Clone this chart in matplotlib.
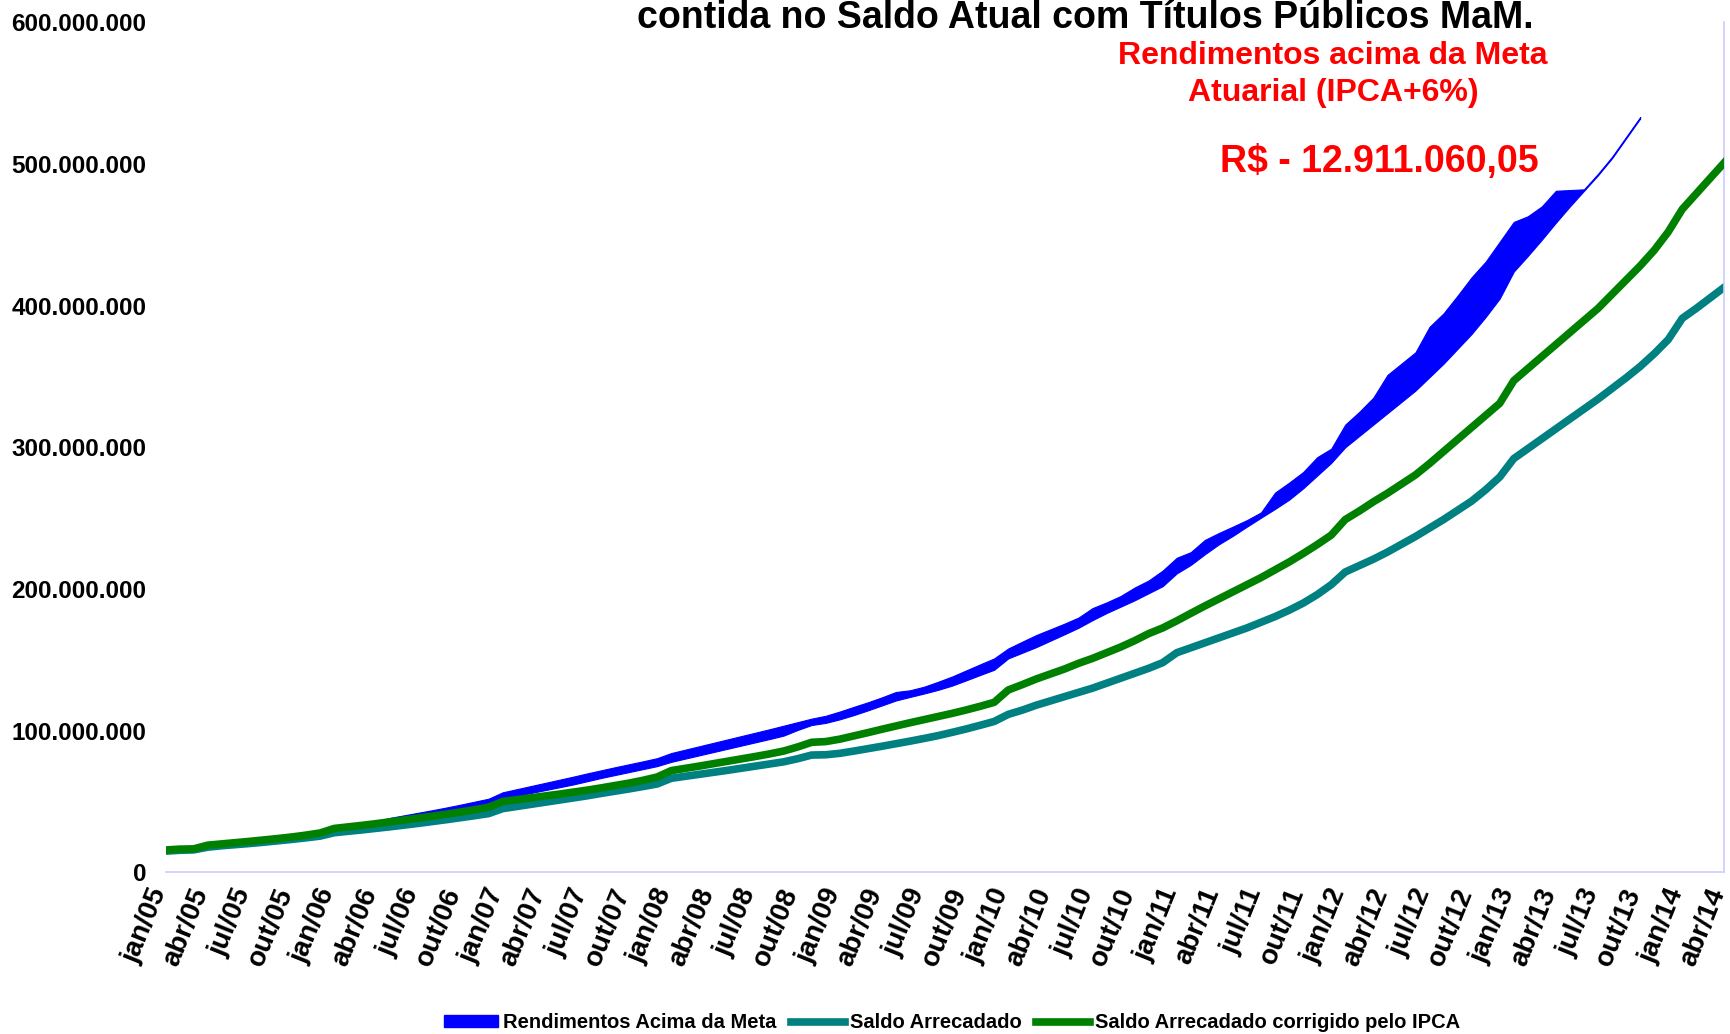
import matplotlib
matplotlib.use("Agg")
import matplotlib.pyplot as plt
from matplotlib.patches import Patch
from matplotlib.lines import Line2D
from matplotlib.ticker import FuncFormatter
from matplotlib.transforms import ScaledTranslation
import numpy as np

plt.rcParams['font.family'] = ['Liberation Sans', 'DejaVu Sans']
plt.rcParams['font.weight'] = 'bold'

# months jan/05 .. abr/14
meses = ['jan', 'fev', 'mar', 'abr', 'mai', 'jun', 'jul', 'ago', 'set', 'out', 'nov', 'dez']
labels = [f"{m}/{a:02d}" for a in range(5, 15) for m in meses][:112]

# values in millions of R$
saldo_arrecadado = [
    15.0, 15.6, 15.9, 17.8, 18.8, 19.6, 20.4, 21.3, 22.3, 23.3, 24.4, 25.6,
    28.0, 29.0, 30.0, 31.1, 32.2, 33.4, 34.6, 35.9, 37.2, 38.6, 40.0, 41.5,
    45.0, 46.5, 48.0, 49.5, 51.0, 52.5, 54.0, 55.7, 57.3, 58.9, 60.6, 62.4,
    66.4, 67.8, 69.2, 70.6, 72.0, 73.5, 75.0, 76.5, 78.0, 80.2, 82.8, 83.0,
    84.0, 85.6, 87.3, 89.0, 90.8, 92.6, 94.5, 96.5, 98.8, 101.2, 103.8, 106.5,
    111.5, 114.5, 118.0, 121.0, 124.0, 127.0, 130.0, 133.5, 137.0, 140.5, 144.0, 148.0,
    155.0, 158.5, 162.0, 165.5, 169.0, 172.5, 176.5, 180.5, 185.0, 190.0, 196.0, 203.0,
    212.0, 216.5, 221.0, 226.0, 231.5, 237.0, 243.0, 249.0, 255.5, 262.0, 270.0, 279.0,
    292.0, 299.0, 306.0, 313.0, 320.0, 327.0, 334.0, 341.5, 349.0, 357.0, 366.0, 376.0,
    391.0, 398.0, 405.5, 413.0]

saldo_ipca = [
    15.8, 16.4, 16.6, 19.2, 20.1, 21.0, 21.9, 22.9, 23.9, 25.0, 26.3, 27.8,
    31.0, 32.1, 33.2, 34.4, 35.7, 37.0, 38.3, 39.7, 41.1, 42.6, 44.2, 46.0,
    50.0, 51.3, 52.6, 53.9, 55.2, 56.6, 58.0, 59.6, 61.3, 63.0, 65.0, 67.3,
    71.8, 73.4, 75.0, 76.7, 78.4, 80.1, 81.8, 83.6, 85.6, 88.5, 91.8, 92.3,
    94.0, 96.3, 98.6, 101.0, 103.3, 105.6, 107.8, 110.0, 112.2, 114.6, 117.2, 120.0,
    128.7, 132.5, 136.5, 140.0, 143.5, 147.5, 151.0, 155.0, 159.0, 163.5, 168.5, 172.5,
    177.5, 182.8, 188.0, 193.0, 198.0, 203.0, 208.0, 213.5, 219.0, 225.0, 231.3, 238.0,
    249.0, 255.0, 261.5, 267.5, 274.0, 280.5, 288.5, 297.0, 305.5, 314.0, 322.5, 331.0,
    347.0, 355.5, 364.0, 372.5, 381.0, 389.5, 398.0, 408.0, 418.0, 428.0, 439.0, 452.0,
    468.0, 479.0, 490.0, 501.0]

# band "Rendimentos Acima da Meta": meta (lower) and saldo atual (upper), jan/05..out/13
meta_atuarial = [
    15.0, 15.6, 15.9, 18.4, 19.2, 20.0, 20.9, 21.8, 22.8, 23.9, 25.1, 26.5,
    30.5, 31.6, 32.8, 34.0, 35.4, 36.8, 38.3, 39.8, 41.4, 43.1, 44.9, 47.2,
    52.0, 54.0, 56.0, 58.0, 60.0, 62.0, 64.3, 66.6, 68.7, 70.8, 72.9, 75.0,
    78.0, 80.3, 82.6, 84.9, 87.2, 89.5, 91.8, 94.1, 96.5, 100.5, 104.0, 105.5,
    108.0, 111.0, 114.3, 117.8, 121.3, 123.8, 126.2, 128.8, 131.8, 135.5, 139.3, 143.0,
    151.0, 155.0, 159.0, 163.5, 168.0, 172.6, 178.0, 183.0, 187.5, 192.0, 197.0, 202.0,
    211.0, 217.0, 224.5, 231.5, 237.5, 244.0, 250.3, 256.5, 263.0, 271.0, 280.0, 289.0,
    300.0, 308.0, 316.0, 324.0, 332.0, 340.0, 349.5, 359.0, 369.5, 380.0, 392.0, 405.0,
    424.0, 435.0, 446.5, 458.5, 470.0, 481.0, 492.0, 504.0, 518.0, 532.0]

saldo_atual = [
    15.5, 16.2, 16.5, 19.0, 19.9, 20.8, 21.8, 22.8, 23.9, 25.0, 26.3, 27.8,
    31.5, 33.0, 34.6, 36.3, 38.5, 40.3, 42.1, 43.9, 45.8, 47.8, 49.9, 52.0,
    56.5, 58.7, 60.9, 63.1, 65.3, 67.5, 69.8, 72.0, 74.2, 76.3, 78.4, 80.6,
    84.2, 86.6, 89.0, 91.4, 93.8, 96.2, 98.6, 101.0, 103.5, 106.0, 108.5, 110.5,
    113.5, 116.8, 120.0, 123.5, 127.3, 128.5, 131.0, 134.5, 138.2, 142.5, 146.8, 151.0,
    158.0, 162.8, 167.5, 171.5, 175.5, 179.8, 186.5, 190.5, 195.0, 201.0, 206.0, 213.0,
    222.0, 226.0, 234.6, 239.5, 244.0, 248.6, 254.0, 268.0, 275.0, 282.5, 293.0, 299.0,
    316.0, 325.0, 335.0, 351.0, 359.0, 367.0, 385.0, 394.5, 407.0, 420.0, 431.0, 445.0,
    459.0, 463.0, 470.0, 481.0, 481.5, 482.0, 493.0, 505.0, 519.0, 533.0]

x = np.arange(len(labels))
xb = x[:len(saldo_atual)]
M = 1e6

fig = plt.figure(figsize=(17.31, 10.34), dpi=100)
ax = fig.add_axes([0.0957, 0.1563, 0.9005, 0.8223])

ax.fill_between(xb, np.array(meta_atuarial) * M, np.array(saldo_atual) * M,
                color='#0000FF', lw=0.8, edgecolor='#0000FF', zorder=1)
ax.plot(x, np.array(saldo_arrecadado) * M, color='#008080', lw=5.5, zorder=2, solid_joinstyle='round')
ax.plot(x, np.array(saldo_ipca) * M, color='#008000', lw=5.5, zorder=3, solid_joinstyle='round')

ax.set_xlim(0, len(labels) - 1)
ax.set_ylim(0, 600 * M)
ax.set_yticks(np.arange(0, 601, 100) * M)
ax.yaxis.set_major_formatter(FuncFormatter(lambda v, p: f"{int(v):,}".replace(',', '.')))
ax.tick_params(axis='y', length=0, pad=14, labelsize=17.5)
ax.set_xticks(x[::3])
ax.set_xticklabels(labels[::3], rotation=68, ha='right', va='center', rotation_mode='anchor')
ax.tick_params(axis='x', length=0, pad=12, labelsize=20)
shift = ScaledTranslation(-6 / 100, 0, fig.dpi_scale_trans)
for lab in ax.get_xticklabels():
    lab.set_transform(lab.get_transform() + shift)
for lab in ax.get_xticklabels() + ax.get_yticklabels():
    lab.set_fontweight('bold')

for s in ['top', 'left']:
    ax.spines[s].set_visible(False)
for s in ['bottom', 'right']:
    ax.spines[s].set_color('#ccccff')
    ax.spines[s].set_linewidth(1.2)

fig.text(0.627, 0.973, 'contida no Saldo Atual com Títulos Públicos MaM.',
         ha='center', va='baseline', fontsize=27, fontweight='bold')
fig.text(0.770, 0.938, 'Rendimentos acima da Meta', color='#FF0000',
         ha='center', va='baseline', fontsize=23, fontweight='bold')
fig.text(0.770, 0.902, 'Atuarial (IPCA+6%)', color='#FF0000',
         ha='center', va='baseline', fontsize=23, fontweight='bold')
fig.text(0.7966, 0.834, 'R$ - 12.911.060,05', color='#FF0000',
         ha='center', va='baseline', fontsize=27, fontweight='bold')

handles = [Patch(color='#0000FF'),
           Line2D([0], [0], color='#008080', lw=5.5),
           Line2D([0], [0], color='#008000', lw=5.5)]
names = ['Rendimentos Acima da Meta', 'Saldo Arrecadado', 'Saldo Arrecadado corrigido pelo IPCA']
fig.legend(handles, names, loc='center', bbox_to_anchor=(0.55, 0.011), ncol=3,
           frameon=False, handlelength=2.7, handleheight=0.5,
           handletextpad=0.25, columnspacing=0.7, prop={'weight': 'bold', 'size': 14.5})

fig.savefig('out.png', dpi=100, facecolor='white')
